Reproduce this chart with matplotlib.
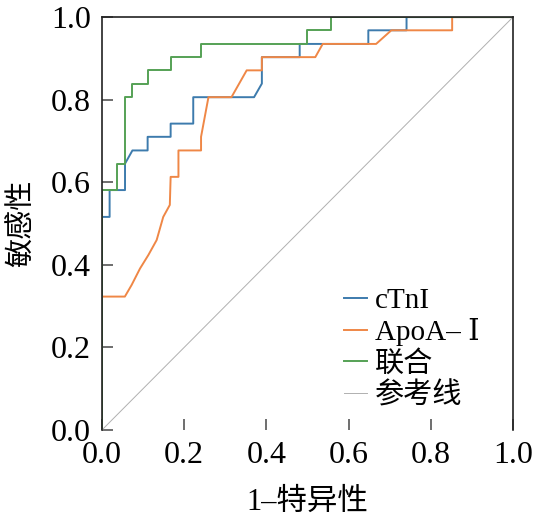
import matplotlib
matplotlib.use("Agg")
import matplotlib.pyplot as plt

# ROC curve points (1-specificity, sensitivity)
ctni_fpr = [0.0, 0.0, 0.0185, 0.0185, 0.056, 0.056, 0.074, 0.111, 0.111, 0.167, 0.167,
            0.222, 0.222, 0.370, 0.389, 0.389, 0.481, 0.481, 0.648, 0.648, 0.741, 0.741, 1.0]
ctni_tpr = [0.0, 0.516, 0.516, 0.581, 0.581, 0.645, 0.677, 0.677, 0.710, 0.710, 0.742,
            0.742, 0.806, 0.806, 0.839, 0.903, 0.903, 0.935, 0.935, 0.968, 0.968, 1.0, 1.0]

apoa_fpr = [0.0, 0.0, 0.0556, 0.072, 0.0925, 0.113, 0.133, 0.149, 0.165, 0.167, 0.186, 0.186,
            0.241, 0.241, 0.259, 0.315, 0.352, 0.389, 0.389, 0.519, 0.537, 0.667, 0.704,
            0.852, 0.852, 1.0]
apoa_tpr = [0.0, 0.323, 0.323, 0.351, 0.391, 0.424, 0.460, 0.516, 0.545, 0.613, 0.613, 0.677,
            0.677, 0.710, 0.806, 0.806, 0.871, 0.871, 0.903, 0.903, 0.935, 0.935, 0.968,
            0.968, 1.0, 1.0]

comb_fpr = [0.0, 0.0, 0.037, 0.037, 0.056, 0.056, 0.074, 0.074, 0.111, 0.111, 0.167, 0.167,
            0.241, 0.241, 0.5, 0.5, 0.556, 0.556, 1.0]
comb_tpr = [0.0, 0.581, 0.581, 0.645, 0.645, 0.806, 0.806, 0.839, 0.839, 0.871, 0.871, 0.903,
            0.903, 0.935, 0.935, 0.968, 0.968, 1.0, 1.0]

ref_x = [0.0, 1.0]
ref_y = [0.0, 1.0]

labels = ["cTnI", "ApoA– Ⅰ", "联合", "参考线"]
ticks = [0.0, 0.2, 0.4, 0.6, 0.8, 1.0]

fam = ["Liberation Serif", "DejaVu Serif", "Noto Sans CJK SC"]
plt.rcParams["font.family"] = fam

fig = plt.figure(figsize=(5.38, 5.18), dpi=100)
ax = fig.add_axes([0.1896, 0.170, 0.7639, 0.797])

ax.plot(ctni_fpr, ctni_tpr, color="#3d7bad", lw=1.4, label=labels[0])
ax.plot(apoa_fpr, apoa_tpr, color="#ef8746", lw=1.4, label=labels[1])
ax.plot(comb_fpr, comb_tpr, color="#55a155", lw=1.4, label=labels[2])
ax.plot(ref_x, ref_y, color="#b0b0b0", lw=0.7, label=labels[3])

ax.set_xlim(0, 1)
ax.set_ylim(0, 1)
ax.set_xticks(ticks)
ax.set_yticks(ticks)
ax.set_xticklabels([f"{t:.1f}" for t in ticks])
ax.set_yticklabels([f"{t:.1f}" for t in ticks])
ax.tick_params(direction="in", length=8, width=1.2, color="#555555",
               labelsize=23, pad=8)
ax.spines["bottom"].set_visible(False)
for s in ["left", "top", "right"]:
    ax.spines[s].set_linewidth(1.2)
    ax.spines[s].set_color("#222222")

ax.set_xlabel("1–特异性", fontsize=22, labelpad=13)
ax.set_ylabel("敏感性", fontsize=21, labelpad=11)

ax.legend(loc="lower left", bbox_to_anchor=(0.589, 0.05), frameon=False,
          fontsize=21, handlelength=0.8, handletextpad=0.25, labelspacing=0.15,
          borderpad=0, borderaxespad=0)

fig.savefig("out.png", dpi=100)
